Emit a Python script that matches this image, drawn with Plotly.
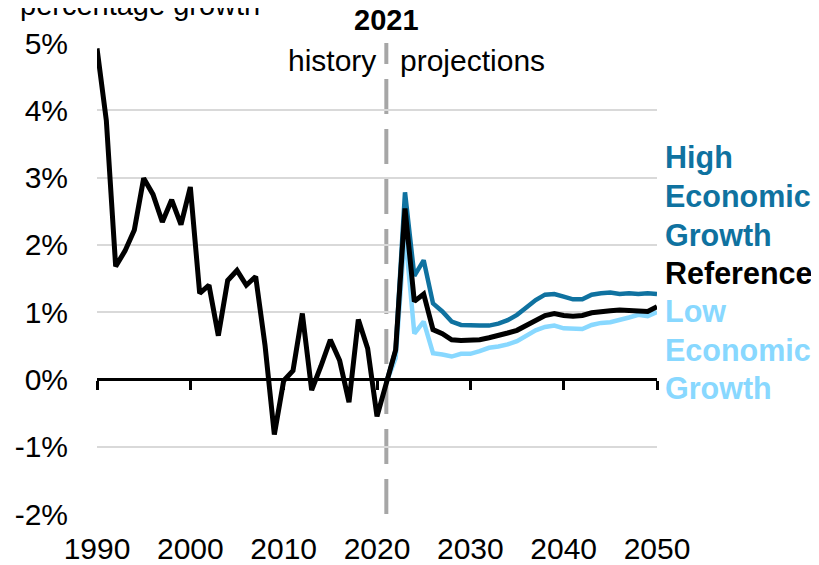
import plotly.graph_objects as go

# Years and growth rates (percent)
years = list(range(1990, 2051))

reference = [
    4.92, 3.85, 1.68, 1.91, 2.22, 2.99, 2.75, 2.34, 2.67, 2.30,
    2.86, 1.28, 1.40, 0.65, 1.47, 1.62, 1.40, 1.53, 0.51, -0.82,
    -0.02, 0.13, 0.98, -0.16, 0.20, 0.59, 0.28, -0.34, 0.89, 0.46,
    -0.55, -0.05, 0.44, 2.54, 1.16, 1.27, 0.74, 0.68, 0.59, 0.58,
    0.58, 0.59, 0.62, 0.65, 0.69, 0.73, 0.80, 0.89, 0.95, 0.98,
    0.95, 0.94, 0.95, 0.99, 1.01, 1.02, 1.03, 1.02, 1.01, 1.01,
    1.08,
]

proj_years = list(range(2021, 2051))
high_growth = [
    -0.05, 0.44, 2.78, 1.54, 1.77, 1.13, 1.01, 0.86, 0.81, 0.80,
    0.80, 0.80, 0.83, 0.88, 0.96, 1.07, 1.18, 1.26, 1.27, 1.23,
    1.19, 1.19, 1.26, 1.28, 1.29, 1.27, 1.28, 1.27, 1.28, 1.27,
]
low_growth = [
    -0.05, 0.32, 2.20, 0.68, 0.86, 0.39, 0.37, 0.34, 0.38, 0.38,
    0.42, 0.47, 0.49, 0.52, 0.57, 0.65, 0.73, 0.78, 0.80, 0.76,
    0.75, 0.75, 0.81, 0.84, 0.85, 0.88, 0.92, 0.96, 0.94, 1.00,
]

history_end = 2021

HIGH_COLOR = '#0f72a0'
LOW_COLOR = '#88d8ff'
FONT = 'Liberation Sans, Arial, sans-serif'
FS = 30

fig = go.Figure()

fig.add_trace(go.Scatter(x=proj_years, y=low_growth, mode='lines',
                         line=dict(color=LOW_COLOR, width=4.5), name='Low Economic Growth'))
fig.add_trace(go.Scatter(x=proj_years, y=high_growth, mode='lines',
                         line=dict(color=HIGH_COLOR, width=4.5), name='High Economic Growth'))
# reference sits on the overlay axis so it is drawn on top (and the axis shows the zero line)
fig.add_trace(go.Scatter(x=years, y=reference, mode='lines', xaxis='x2',
                         line=dict(color='black', width=5), name='Reference'))

# divider between history and projections
fig.add_vline(x=history_end, line=dict(color='#a6a6a6', width=4, dash='35px,15px'),
              layer='below')

annotations = [
    dict(text='<b>2021</b>', x=history_end, xref='x', y=1.049, yref='paper',
         xanchor='center', yanchor='middle', font=dict(size=29, color='black')),
    dict(text='history', x=history_end, xref='x', xshift=-8, y=0.962, yref='paper',
         xanchor='right', yanchor='middle', font=dict(size=FS, color='black')),
    dict(text='projections', x=history_end, xref='x', xshift=12, y=0.962, yref='paper',
         xanchor='left', yanchor='middle', font=dict(size=FS, color='black')),
    dict(text='percentage growth', x=-0.141, xref='paper', y=1.08, yref='paper',
         xanchor='left', yanchor='middle', font=dict(size=29, color='black')),
]

# series labels on the right, one line each
label_lines = [
    ('High', HIGH_COLOR), ('Economic', HIGH_COLOR), ('Growth', HIGH_COLOR),
    ('Reference', 'black'),
    ('Low', LOW_COLOR), ('Economic', LOW_COLOR), ('Growth', LOW_COLOR),
]
for i, (txt, col) in enumerate(label_lines):
    annotations.append(dict(
        text='<b>' + txt + '</b>', x=1.01, xref='paper',
        y=(514 - (158 + 38.3 * i)) / 471, yref='paper',
        xanchor='left', yanchor='middle',
        font=dict(size=30.5, color=col)))

for a in annotations:
    a['showarrow'] = False

# the page has an 8px body margin, so the figure is 8px smaller than the window
fig.update_layout(
    width=811, height=557,
    margin=dict(l=89, r=162, t=35, b=51),
    plot_bgcolor='white', paper_bgcolor='white',
    font=dict(family=FONT, size=FS, color='black'),
    showlegend=False,
    annotations=annotations,
    xaxis=dict(range=[1990, 2050], dtick=10, tick0=1990, showgrid=False,
               showline=False, ticks='', zeroline=False, automargin=False,
               ticklabelstandoff=14, tickfont=dict(size=FS)),
    # zero line with tick marks
    xaxis2=dict(range=[1990, 2050], dtick=10, tick0=1990, overlaying='x',
                anchor='free', position=2 / 7, side='bottom',
                showline=True, linecolor='black', linewidth=2.5,
                ticks='outside', ticklen=9, tickwidth=2.5, tickcolor='black',
                showticklabels=False, showgrid=False, zeroline=False,
                automargin=False),
    yaxis=dict(range=[-2, 5], showgrid=True,
               gridcolor='#d9d9d9', gridwidth=2, zeroline=False,
               showline=False, ticks='', ticklabelstandoff=28, automargin=False,
               tickvals=[-2, -1, 0, 1, 2, 3, 4, 5],
               ticktext=['-2%', '-1%', '0%', '1%', '2%', '3%', '4%', '5%'],
               tickfont=dict(size=FS)),
)

fig.write_html("out.html")
